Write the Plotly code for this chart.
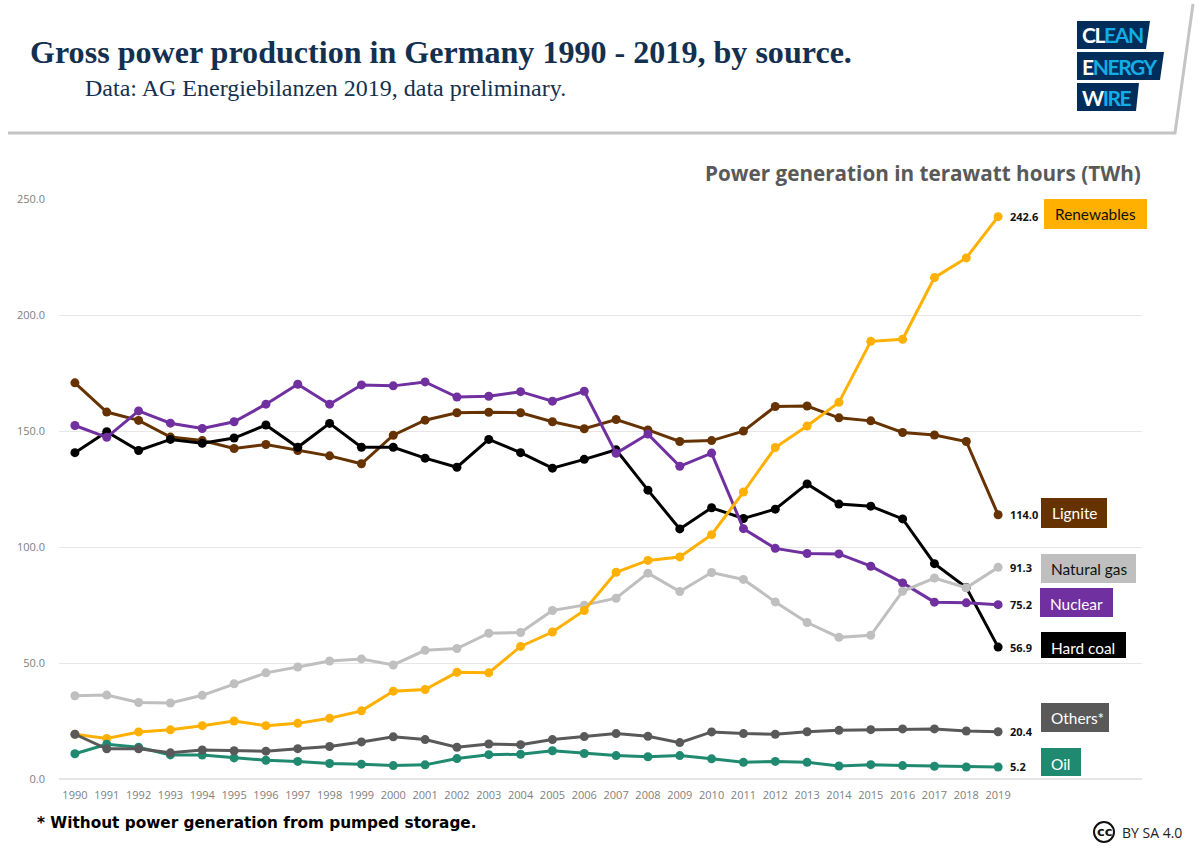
import plotly.graph_objects as go

W, H = 1200, 848
years = list(range(1990, 2020))
year_labels = [str(y) for y in years]
y_ticks = [0, 50, 100, 150, 200, 250]
y_tick_labels = ["0.0", "50.0", "100.0", "150.0", "200.0", "250.0"]

lignite = [170.9,158.3,154.7,147.5,146.0,142.6,144.3,141.7,139.4,136.0,148.3,154.8,158.0,158.2,158.0,154.1,151.1,155.1,150.6,145.6,146.0,150.1,160.7,160.9,155.8,154.5,149.5,148.4,145.6,114.0]
hard_coal = [140.8,149.8,141.7,146.5,144.8,147.1,152.7,143.1,153.4,143.1,143.1,138.4,134.5,146.5,140.8,134.1,137.9,142.0,124.6,107.9,117.0,112.4,116.4,127.3,118.6,117.7,112.2,92.9,82.6,56.9]
nuclear = [152.5,147.4,158.8,153.5,151.2,154.1,161.7,170.3,161.7,170.0,169.6,171.3,164.8,165.1,167.1,163.0,167.3,140.5,148.8,134.9,140.6,108.0,99.5,97.3,97.1,91.8,84.6,76.3,76.0,75.2]
natural_gas = [35.9,36.2,33.0,32.8,36.1,41.1,45.8,48.3,50.9,51.8,49.2,55.5,56.3,62.9,63.2,72.7,75.0,78.0,88.8,80.9,89.1,86.1,76.4,67.5,61.1,62.0,81.0,86.7,82.5,91.3]
renewables = [19.3,17.5,20.3,21.2,23.0,25.0,23.0,24.0,26.2,29.4,37.9,38.6,46.0,45.8,57.2,63.4,72.7,89.2,94.3,95.8,105.4,123.8,143.0,152.3,162.5,188.8,189.7,216.3,224.8,242.6]
oil = [10.9,15.0,13.7,10.4,10.3,9.1,8.1,7.6,6.7,6.4,5.8,6.1,8.8,10.5,10.7,12.2,11.0,10.1,9.6,10.1,8.7,7.2,7.6,7.2,5.6,6.2,5.8,5.5,5.2,5.2]
others = [19.3,13.0,13.0,11.3,12.5,12.2,12.0,13.1,14.0,16.0,18.2,17.0,13.7,15.1,14.8,17.0,18.3,19.6,18.4,15.7,20.3,19.6,19.3,20.4,21.0,21.3,21.6,21.6,20.7,20.4]

series = [
    ("Lignite", lignite, "#663300"),
    ("Hard coal", hard_coal, "#000000"),
    ("Nuclear", nuclear, "#7030A0"),
    ("Natural gas", natural_gas, "#BFBFBF"),
    ("Renewables", renewables, "#FFB000"),
    ("Oil", oil, "#1F8A70"),
    ("Others*", others, "#595959"),
]

def px(x): return x / W
def py(y): return 1 - y / H

fig = go.Figure()
for name, vals, col in series:
    fig.add_trace(go.Scatter(x=years, y=vals, name=name, mode="lines+markers",
                             line=dict(color=col, width=3),
                             marker=dict(color=col, size=9), cliponaxis=False,
                             showlegend=False, hoverinfo="skip"))

shapes, ann = [], []
PAD = {"left": -2, "right": 2, "center": 0}

def text(x, y, s, size, color, family, anchor="left", bold=False):
    ann.append(dict(xref="paper", yref="paper", x=px(x + PAD[anchor]), y=py(y), text=f"<b>{s}</b>" if bold else s,
                    showarrow=False, xanchor=anchor, yanchor="middle",
                    font=dict(size=size, color=color, family=family)))

def paper_path(points, **kw):
    d = "M " + " L ".join(f"{px(a):.5f} {py(b):.5f}" for a, b in points)
    if kw.pop("close", True):
        d += " Z"
    shapes.append(dict(type="path", xref="paper", yref="paper", path=d, layer="above", **kw))

# header panel edge
paper_path([(8, 133), (1175, 133), (1193, 4)], close=False,
           line=dict(color="#C4C4C4", width=3))
text(30, 52, "Gross power production in Germany 1990 - 2019, by source.", 32.1, "#14304F", "Liberation Serif", bold=True)
text(85, 88, "Data: AG Energiebilanzen 2019, data preliminary.", 24, "#14304F", "Liberation Serif")
text(1141, 173, "Power generation in terawatt hours (TWh)", 20.7, "#595959", "Open Sans", anchor="right", bold=True)
text(37, 823, "* Without power generation from pumped storage.", 15.3, "#000000", "DejaVu Sans", bold=True)

# logo
NAVY, SKY = "#002D5A", "#12ADE4"
logo = [([(1077, 21), (1150, 21), (1146, 49), (1077, 49)], "CL", "EAN", 35),
        ([(1077, 52), (1164, 52), (1160, 80), (1077, 80)], "E", "NERGY", 66),
        ([(1077, 83), (1139, 83), (1136, 111), (1077, 111)], "W", "IRE", 97)]
TIGHT = "letter-spacing:-1.4px"
for poly, a, b, yc in logo:
    paper_path(poly, fillcolor=NAVY, line=dict(width=0))
    ann.append(dict(xref="paper", yref="paper", x=px(1080), y=py(yc), showarrow=False, xanchor="left", yanchor="middle",
                    text=f"<b><span style='color:white;{TIGHT}'>{a}</span><span style='color:{SKY};{TIGHT}'>{b}</span></b>",
                    font=dict(size=21, family="Lato")))

# end-of-line values
for name, vals, col in series:
    ann.append(dict(xref="x", yref="y", x=years[-1], y=vals[-1], xanchor="left", yanchor="middle",
                    xshift=10, showarrow=False, text=f"<b>{vals[-1]:.1f}</b>",
                    font=dict(size=11, color="#111111", family="Open Sans")))

# series label boxes
boxes = [("Renewables", 1044, 1147, 199, 229, "#FFB000", "#111111", 1055, 214),
         ("Lignite", 1041, 1107, 498, 528, "#663300", "#FFFFFF", 1052, 513),
         ("Natural gas", 1041, 1136, 554, 583, "#BFBFBF", "#111111", 1051, 569),
         ("Nuclear", 1040, 1113, 588, 617, "#7030A0", "#FFFFFF", 1050, 604),
         ("Hard coal", 1041, 1126, 632, 658, "#000000", "#FFFFFF", 1051, 648),
         ("Others*", 1041, 1109, 703, 732, "#595959", "#FFFFFF", 1051, 718),
         ("Oil", 1041, 1081, 748, 776, "#1F8A70", "#FFFFFF", 1051, 764)]
for label, x0, x1, y0, y1, fill, tc, tx, ty in boxes:
    paper_path([(x0, y0), (x1, y0), (x1, y1), (x0, y1)], fillcolor=fill, line=dict(width=0))
    text(tx, ty, label, 15.4, tc, "Lato")

# cc mark
shapes.append(dict(type="circle", xref="paper", yref="paper", x0=px(1094), x1=px(1114),
                   y0=py(842), y1=py(822), line=dict(color="#111111", width=2), fillcolor="white"))
text(1104, 831, "cc", 13, "#111111", "DejaVu Sans", anchor="center", bold=True)
text(1122, 832, "BY SA 4.0", 14, "#222222", "Open Sans")

grid = "#E6E6E6"
tick_font = dict(size=11, color="#808080", family="Open Sans")
fig.update_layout(
    width=W, height=H, margin=dict(l=0, r=0, t=0, b=0, autoexpand=False),
    paper_bgcolor="white", plot_bgcolor="white", showlegend=False,
    shapes=shapes, annotations=ann,
    xaxis=dict(domain=[px(59), px(1142)], range=[1989.5, 2023.52], tickvals=years, ticktext=year_labels,
               tickangle=0, tickfont=tick_font, showgrid=False, zeroline=False, showline=False, ticks="",
               ticklabelstandoff=8),
    yaxis=dict(domain=[py(779), py(199.5)], range=[0, 250], tickvals=y_ticks, ticktext=y_tick_labels,
               tickfont=tick_font, showgrid=True, gridcolor=grid, gridwidth=1, zeroline=True, zerolinecolor=grid,
               showline=False, ticks="", ticklabelstandoff=13),
)
fig.write_html("out.html", config=dict(displayModeBar=False),
               post_script="document.body.style.margin='0';document.body.style.overflow='hidden';")
